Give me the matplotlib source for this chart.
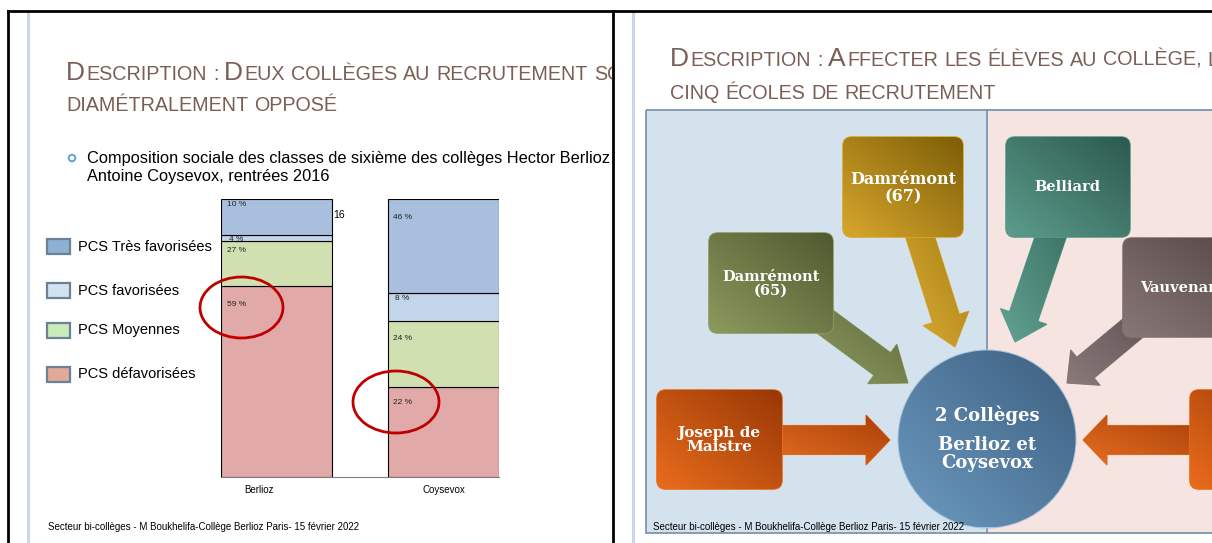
import numpy as np
import matplotlib
matplotlib.use("Agg")
import matplotlib.pyplot as plt
import matplotlib.transforms as mtransforms
from matplotlib.patches import Rectangle, Ellipse, Circle, FancyBboxPatch, FancyArrow
from matplotlib.colors import LinearSegmentedColormap

# bar chart data (segments bottom -> top, heights as drawn on the slide)
schools = ["Berlioz", "Coysevox"]
pcs_groups = ["PCS défavorisées", "PCS Moyennes", "PCS favorisées", "PCS Très favorisées"]
berlioz_share = [68.6, 16.4, 2.2, 12.8]
coysevox_share = [32.4, 23.7, 10.1, 33.8]
berlioz_labels = ["59 %", "27 %", "4 %", "10 %"]
coysevox_labels = ["22 %", "24 %", "8 %", "46 %"]
bar_colors = ["#e1a9a8", "#d1e0b1", "#c3d5ea", "#a9bfde"]
legend_colors = ["#e2a898", "#c7ecb9", "#d3e2f0", "#8eb0d2"]

# diagram texts
center_lines = ["2 Collèges", "Berlioz et", "Coysevox"]
feeder_schools = ["Damrémont\n(67)", "Damrémont\n(65)", "Joseph de\nMaistre", "Belliard", "Vauvenargues", ""]

footer = "Secteur bi-collèges - M Boukhelifa-Collège Berlioz Paris- 15 février 2022"
title_left = ["Description : Deux collèges au recrutement socialement", "diamétralement opposé"]
title_right = ["Description : Affecter les élèves au collège, les", "cinq écoles de recrutement"]
bullet = ["Composition sociale des classes de sixième des collèges Hector Berlioz et",
          "Antoine Coysevox, rentrées 2016"]

W, H = 1212, 543
SANS = "Liberation Sans"
SERIF = "DejaVu Serif"
TITLE_C = "#7a5f55"

fig = plt.figure(figsize=(W / 100, H / 100), dpi=100)


def px_axes(x0, x1, y0=0, y1=H):
    ax = fig.add_axes([x0 / W, 1 - y1 / H, (x1 - x0) / W, (y1 - y0) / H])
    ax.set_xlim(x0, x1)
    ax.set_ylim(y1, y0)
    ax.axis("off")
    return ax


def caps_title(ax, x, y, text, big=19, small=14.2):
    r = fig.canvas.get_renderer()
    space = small * 0.3 * 100 / 72
    for wi, word in enumerate(text.split(" ")):
        if wi:
            x += space
        runs = []
        for ch in word:
            up = ch.isupper()
            if runs and runs[-1][0] == up:
                runs[-1][1] += ch
            else:
                runs.append([up, ch])
        for k, (up, s) in enumerate(runs):
            if k:
                x += 1.5
            t = ax.text(x, y, s.upper(), fontsize=big if up else small, family=SANS,
                        color=TITLE_C, va="baseline", ha="left", clip_on=True)
            x += t.get_window_extent(r).width


def grad_fill(ax, patch, box, light, dark, z):
    x0, y0, x1, y1 = box
    patch.set_zorder(z)
    ax.add_patch(patch)
    X, Y = np.meshgrid(np.linspace(0, 1, 64), np.linspace(0, 1, 64))
    t = (X + (1 - Y)) / 2
    cmap = LinearSegmentedColormap.from_list("g", [light, dark])
    im = ax.imshow(t, extent=(x0, x1, y1, y0), origin="upper", cmap=cmap, vmin=0, vmax=1,
                   aspect="auto", zorder=z + 0.1, interpolation="bilinear")
    im.set_clip_path(patch)


def school_box(ax, x0, y0, x1, y1, light, dark, z=5):
    p = FancyBboxPatch((x0, y0), x1 - x0, y1 - y0, boxstyle="round,pad=0,rounding_size=9",
                       fc=dark, ec=light, lw=1.2)
    grad_fill(ax, p, (x0, y0, x1, y1), light, dark, z)


def arrow(ax, tail, tip, shaft, head_w, head_l, light, dark, z=3):
    a = FancyArrow(tail[0], tail[1], tip[0] - tail[0], tip[1] - tail[1], width=shaft,
                   head_width=head_w, head_length=head_l, length_includes_head=True,
                   fc=dark, ec=light, lw=0.8)
    (x0, y0), (x1, y1) = a.get_path().get_extents().get_points()
    grad_fill(ax, a, (x0, y0, x1, y1), light, dark, z)


def left_slide():
    ax = px_axes(8, 612)
    ax.add_patch(Rectangle((27, 11), 3, 532, fc="#c8d8ea", ec="none"))
    caps_title(ax, 66, 80, title_left[0])
    caps_title(ax, 66, 111, title_left[1])
    ax.add_patch(Circle((72, 158), 3.3, fc="none", ec="#5b9bd5", lw=1.3))
    ax.text(87, 158, bullet[0], fontsize=11.8, family=SANS, va="center", clip_on=True)
    ax.text(87, 177, bullet[1], fontsize=11.8, family=SANS, va="center", clip_on=True)
    rows = [374.5, 330, 290.7, 246.7]
    for name, c, yc in zip(pcs_groups, legend_colors, rows):
        ax.add_patch(Rectangle((47, yc - 7.5), 23, 15, fc=c, ec="#6a8196", lw=1.6))
        ax.text(78, yc, name, fontsize=10.5, family=SANS, va="center")
    ax.text(48, 527, footer, fontsize=7, family=SANS, va="center")


def bar_chart():
    ax = fig.add_axes([221 / W, (H - 477) / H, 278 / W, 278 / H])
    x = np.arange(len(schools))
    w = 0.665
    data = [berlioz_share, coysevox_share]
    bottoms = np.zeros(len(schools))
    for i, c in enumerate(bar_colors):
        vals = np.array([d[i] for d in data])
        ax.bar(x, vals, width=w, bottom=bottoms, color=c, edgecolor="black", linewidth=0.8)
        bottoms += vals
    # labels near the top-left corner of each segment
    drops = [[18, 10, 5, 6], [16, 17, 6, 18]]
    shifts = [[6, 6, 8, 6], [5, 5, 7, 5]]
    for j, (vals, labels) in enumerate(zip(data, [berlioz_labels, coysevox_labels])):
        top = np.cumsum(vals)
        for i, lab in enumerate(labels):
            ax.text(x[j] - w / 2 + shifts[j][i] / 167, top[i] - drops[j][i] * 100 / 278, lab,
                    fontsize=6, family=SANS, va="center", ha="left", color="#222222")
    ax.set_xlim(-w / 2, 1 + w / 2)
    ax.set_ylim(0, 100)
    for s in ["top", "left", "right"]:
        ax.spines[s].set_visible(False)
    ax.spines["bottom"].set_color("#7f7f7f")
    ax.set_yticks([])
    ax.set_xticks(x)
    ax.set_xticklabels(schools, fontsize=7, family=SANS)
    ax.tick_params(axis="x", length=0, pad=6)
    # the Berlioz label sits a little left of its bar on the slide
    for lab, dx in zip(ax.get_xticklabels(), [-18, 0]):
        lab.set_transform(lab.get_transform() + mtransforms.ScaledTranslation(dx / 100, 0, fig.dpi_scale_trans))
    ax.patch.set_alpha(0)


def right_slide():
    ax = px_axes(613, W)
    ax.add_patch(Rectangle((632, 11), 3, 532, fc="#c8d8ea", ec="none"))
    caps_title(ax, 670, 66, title_right[0])
    caps_title(ax, 670, 99, title_right[1])

    ax.add_patch(Rectangle((646.5, 109.5), 340.5, 423.5, fc="#d4e2ee", ec="none", zorder=1))
    ax.add_patch(Rectangle((987, 109.5), 300, 423.5, fc="#f5e4df", ec="none", zorder=1))
    ax.add_patch(Rectangle((646.5, 109.5), 700, 423.5, fill=False, ec="#7d95ad", lw=1.3, zorder=1.5))
    ax.plot([987, 987], [109.5, 533], color="#7d95ad", lw=1.3, zorder=1.5)

    # arrows towards the two collèges
    arrow(ax, (918, 230), (955, 347), 28, 48, 30, "#dcae36", "#a67e12")
    arrow(ax, (812, 312), (908, 383), 28, 49, 32, "#909c64", "#5f6a3a")
    arrow(ax, (770, 440), (890, 440), 29, 50, 24, "#e66e20", "#a8400a")
    arrow(ax, (1053, 230), (1015, 342), 30, 49, 27, "#62a292", "#3c7466")
    arrow(ax, (1145, 318), (1067, 383), 27, 46, 24, "#8a7b7b", "#5f5252")
    arrow(ax, (1205, 440), (1083, 440), 29, 50, 24, "#e66e20", "#a8400a")

    # feeder schools
    school_box(ax, 843, 137, 963, 237, "#d8a72c", "#7d5e08")
    school_box(ax, 709, 233, 833, 333, "#8c9a5e", "#4f5a30")
    school_box(ax, 657, 390, 782, 489, "#ea6c1c", "#983806")
    school_box(ax, 1006, 137, 1130, 237, "#5c9c8c", "#2c5a4e")
    school_box(ax, 1123, 238, 1265, 337, "#887777", "#544646")
    school_box(ax, 1190, 390, 1315, 489, "#ea6c1c", "#983806")
    tk = dict(family=SERIF, weight="bold", color="white", ha="center", va="center",
              zorder=10, clip_on=True, linespacing=1.0)
    ax.text(903, 188, feeder_schools[0], fontsize=11.5, **tk)
    ax.text(771, 284, feeder_schools[1], fontsize=10.5, **tk)
    ax.text(719, 440, feeder_schools[2], fontsize=11, **tk)
    ax.text(1067, 187, feeder_schools[3], fontsize=10.5, **tk)
    ax.text(1140, 288, feeder_schools[4], fontsize=10.5, **dict(tk, ha="left"))

    # center
    c = Circle((987, 439), 88.5, fc="#4f7699", ec="#a9c4dc", lw=1.5)
    grad_fill(ax, c, (898.5, 350.5, 1075.5, 527.5), "#6c9ac0", "#3c5f80", 7)
    ax.text(987, 415, center_lines[0], fontsize=13, **dict(tk, zorder=11))
    ax.text(987, 454.5, center_lines[1] + "\n" + center_lines[2], fontsize=13, **dict(tk, zorder=11))

    ax.text(653, 527, footer, fontsize=7, family=SANS, va="center", zorder=12)
    ax.set_xlim(613, W)
    ax.set_ylim(H, 0)


def main():
    left_slide()
    bar_chart()
    right_slide()
    ov = px_axes(0, W)
    ov.plot([8, W], [11, 11], color="black", lw=2)
    ov.plot([8, 8], [11, H], color="black", lw=2)
    ov.plot([612.5, 612.5], [11, H], color="black", lw=2)
    ov.add_patch(Ellipse((241.5, 307.5), 83, 61, fc="none", ec="#c00000", lw=2))
    ov.add_patch(Ellipse((396, 402), 86, 62, fc="none", ec="#c00000", lw=2))
    ov.text(333, 215, "16", fontsize=7.5, family=SANS, va="center")
    fig.savefig("out.png", dpi=100)


main()
